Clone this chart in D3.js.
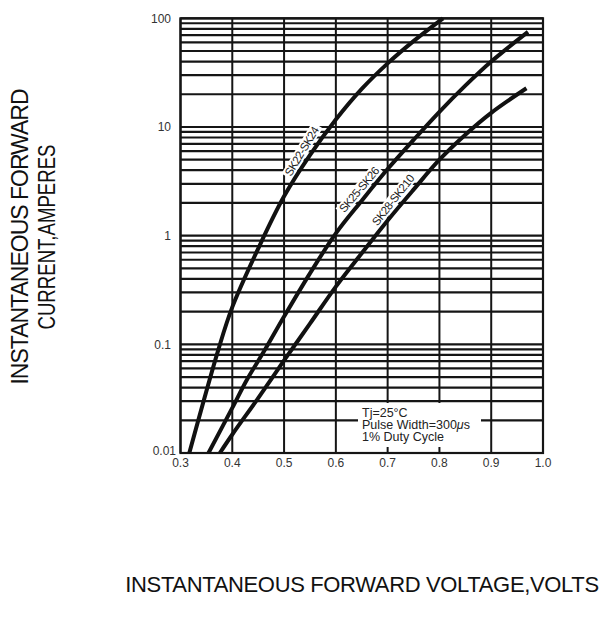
<!DOCTYPE html>
<html>
<head>
<meta charset="utf-8">
<script src="https://cdn.jsdelivr.net/npm/d3@7"></script>
<style>
  body { margin: 0; background: #fff; }
  text { font-family: "Liberation Sans", Arial, sans-serif; }
</style>
</head>
<body>
<script>
// forward voltage (V) vs instantaneous current (A)
var sk22V = [0.317, 0.373, 0.4, 0.45, 0.5, 0.55, 0.6, 0.65, 0.7, 0.75, 0.807];
var sk22I = [0.01, 0.089, 0.22, 0.76, 2.3, 5.5, 11.7, 22.4, 38.5, 61.7, 100];

var sk25V = [0.354, 0.4, 0.428, 0.463, 0.5, 0.55, 0.6, 0.65, 0.7, 0.75, 0.8, 0.85, 0.9, 0.971];
var sk25I = [0.01, 0.026, 0.047, 0.089, 0.18, 0.45, 1.05, 2.1, 4.1, 7.6, 13.8, 24, 40, 75];

var sk28V = [0.376, 0.4, 0.45, 0.5, 0.55, 0.6, 0.65, 0.7, 0.75, 0.8, 0.85, 0.9, 0.968];
var sk28I = [0.01, 0.0148, 0.032, 0.071, 0.155, 0.34, 0.69, 1.38, 2.65, 5.0, 8.5, 13.5, 22.7];

var seriesNames = ["SK22-SK24", "SK25-SK26", "SK28-SK210"];
var labelV = [0.549, 0.658, 0.724];
var labelAngle = [-59, -50, -52];
var xTicks = [0.3, 0.4, 0.5, 0.6, 0.7, 0.8, 0.9, 1.0];
var yTicks = [0.01, 0.1, 1, 10, 100];
var noteLines = ["Tj=25\u00B0C", "Pulse Width=300", "1% Duty Cycle"];

var width = 610;
var height = 621;

var svg = d3.select("body").append("svg")
    .attr("width", width)
    .attr("height", height);

var x = d3.scaleLinear().domain([0.3, 1.0]).range([180.5, 543]);
var y = d3.scaleLog().domain([0.01, 100]).range([453, 18.3]);

/*
 * GRID
 */
var grid = svg.append("g").attr("class", "grid");

grid.selectAll("line.h")
        .data(y.ticks())
    .enter().append("line")
        .attr("class", "h")
        .attr("x1", x(0.3))
        .attr("x2", x(1.0))
        .attr("y1", function(d){ return y(d); })
        .attr("y2", function(d){ return y(d); })
        .style("stroke", "#151515")
        .style("stroke-width", 2.2);

grid.selectAll("line.v")
        .data(xTicks)
    .enter().append("line")
        .attr("class", "v")
        .attr("x1", function(d){ return x(d); })
        .attr("x2", function(d){ return x(d); })
        .attr("y1", y(100))
        .attr("y2", y(0.01))
        .style("stroke", "#151515")
        .style("stroke-width", 2);

grid.append("rect")
    .attr("x", x(0.3))
    .attr("y", y(100))
    .attr("width", x(1.0) - x(0.3))
    .attr("height", y(0.01) - y(100))
    .style("fill", "none")
    .style("stroke", "#151515")
    .style("stroke-width", 2.2);

/*
 * CURVES
 */
var series = [
    { name: seriesNames[0], v: sk22V, i: sk22I },
    { name: seriesNames[1], v: sk25V, i: sk25I },
    { name: seriesNames[2], v: sk28V, i: sk28I }
];

series.forEach(function(s, k){
    // where the label sits along the curve (log-interpolated)
    var logAt = d3.scaleLinear().domain(s.v).range(s.i.map(Math.log10));
    s.lab = [labelV[k], Math.pow(10, logAt(labelV[k]))];
    s.ang = labelAngle[k];
});

var line = d3.line()
    .x(function(d){ return x(d[0]); })
    .y(function(d){ return y(d[1]); })
    .curve(d3.curveCatmullRom.alpha(0.5));

// labels first, curves drawn over them
var labels = svg.selectAll("g.lab")
        .data(series)
    .enter().append("g")
        .attr("class", "lab")
        .attr("transform", function(d){
            return "translate(" + x(d.lab[0]) + "," + y(d.lab[1]) + ") rotate(" + d.ang + ")";
        });

labels.append("text")
    .attr("text-anchor", "middle")
    .attr("y", -9)
    .attr("dy", "0.35em")
    .style("font-size", "11.5px")
    .style("letter-spacing", "-0.6px")
    .style("fill", "#222")
    .text(function(d){ return d.name; })
    .each(function(){
        var b = this.getBBox();
        d3.select(this.parentNode).insert("rect", "text")
            .attr("x", b.x - 2)
            .attr("y", b.y)
            .attr("width", b.width + 4)
            .attr("height", b.height)
            .style("fill", "#fff");
    });

svg.selectAll("path.curve")
        .data(series)
    .enter().append("path")
        .attr("class", "curve")
        .attr("d", function(d){ return line(d3.zip(d.v, d.i)); })
        .style("fill", "none")
        .style("stroke", "#111")
        .style("stroke-width", 4);

/*
 * NOTE BOX
 */
svg.append("rect")
    .attr("x", 358)
    .attr("y", 403)
    .attr("width", 123)
    .attr("height", 44)
    .style("fill", "#fff");

svg.selectAll("text.note")
        .data(noteLines)
    .enter().append("text")
        .attr("class", "note")
        .attr("x", 362)
        .attr("y", function(d, i){ return 417 + i * 12.2; })
        .style("font-size", "12.5px")
        .style("fill", "#222")
        .each(function(d, i){
            var t = d3.select(this);
            t.append("tspan").text(d);
            if ( i === 1 ) {
                t.append("tspan").style("font-style", "italic").text("\u03BC");
                t.append("tspan").text("s");
            }
        });

/*
 * AXES LABELS
 */
svg.selectAll("text.yt")
        .data(yTicks)
    .enter().append("text")
        .attr("class", "yt")
        .attr("x", function(d){ return d === 0.01 ? 176 : 171; })
        .attr("y", function(d){ return d === 0.01 ? y(d) - 2 : y(d); })
        .attr("dy", "0.35em")
        .attr("text-anchor", "end")
        .style("font-size", "12px")
        .style("fill", "#333")
        .text(function(d){ return String(d); });

svg.selectAll("text.xt")
        .data(xTicks)
    .enter().append("text")
        .attr("class", "xt")
        .attr("x", function(d){ return x(d); })
        .attr("y", y(0.01) + 14)
        .attr("text-anchor", "middle")
        .style("font-size", "12px")
        .style("fill", "#333")
        .text(function(d){ return d.toFixed(1); });

var yTitle = svg.append("g")
    .attr("transform", "translate(0,237) rotate(-90)");

yTitle.append("text")
    .attr("x", 0)
    .attr("y", 28)
    .attr("text-anchor", "middle")
    .style("font-size", "23px")
    .style("letter-spacing", "-1px")
    .style("fill", "#111")
    .text("INSTANTANEOUS FORWARD");

yTitle.append("text")
    .attr("x", 0)
    .attr("y", 55)
    .attr("text-anchor", "middle")
    .attr("textLength", 185)
    .attr("lengthAdjust", "spacingAndGlyphs")
    .style("font-size", "23px")
    .style("fill", "#111")
    .text("CURRENT,AMPERES");

svg.append("text")
    .attr("x", 362)
    .attr("y", 592)
    .attr("text-anchor", "middle")
    .style("font-size", "22px")
    .style("letter-spacing", "-0.35px")
    .style("fill", "#111")
    .text("INSTANTANEOUS FORWARD VOLTAGE,VOLTS");
</script>
</body>
</html>
